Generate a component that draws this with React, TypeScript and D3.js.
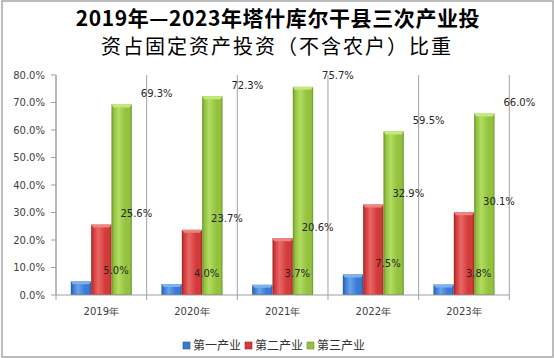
import React from "react";
import * as d3 from "d3";

const years = ["2019年", "2020年", "2021年", "2022年", "2023年"];
const seriesNames = ["第一产业", "第二产业", "第三产业"];
const primary = [5.0, 4.0, 3.7, 7.5, 3.8];
const secondary = [25.6, 23.7, 20.6, 32.9, 30.1];
const tertiary = [69.3, 72.3, 75.7, 59.5, 66.0];
const yTicks = [0, 10, 20, 30, 40, 50, 60, 70, 80];
const titleLines = ["2019年—2023年塔什库尔干县三次产业投", "资占固定资产投资（不含农户）比重"];

const seriesValues = [primary, secondary, tertiary];
const palette = [
  { dark: "#24589f", main: "#3a7ad2", light: "#6aa2ea", cap: "#7db2f0" },
  { dark: "#a02424", main: "#d33b3a", light: "#e86866", cap: "#ef8583" },
  { dark: "#6a9428", main: "#93c23f", light: "#b2dc62", cap: "#c4e87a" },
];

export default function App() {
  const W = 554, H = 358;
  const left = 56, right = 509.3, top = 75, bottom = 295;
  const x = d3.scaleBand<string>().domain(years).range([left, right]).padding(0);
  const xs = d3.scaleBand<string>().domain(seriesNames).range([0, x.bandwidth()]).paddingInner(0).paddingOuter(0.73);
  const y = d3.scaleLinear().domain([0, 80]).range([bottom, top]);
  const font = "'DejaVu Sans', Verdana, sans-serif";
  const cjk = "'Noto Sans CJK SC', sans-serif";
  const bw = xs.bandwidth();
  const boundaries = years.map((_, i) => left + i * x.step()).concat([right]);

  return (
    <svg width={W} height={H} style={{ position: "absolute", left: 0, top: 0 }} xmlns="http://www.w3.org/2000/svg">
      <defs>
        {palette.map((p, i) => (
          <linearGradient key={i} id={`g${i}`} x1="0" x2="1" y1="0" y2="0">
            <stop offset="0" stopColor={p.dark} />
            <stop offset="0.12" stopColor={p.main} />
            <stop offset="0.35" stopColor={p.light} />
            <stop offset="0.7" stopColor={p.main} />
            <stop offset="0.9" stopColor={p.main} />
            <stop offset="1" stopColor={p.dark} />
          </linearGradient>
        ))}
      </defs>
      <rect x={0} y={0} width={W} height={H} fill="#fff" />
      <rect x={2} y={1} width={551} height={356} fill="none" stroke="#a6a6a6" strokeWidth={1.5} />

      {titleLines.map((t, i) => (
        <text key={i} x={i === 0 ? 278 : 277} y={i === 0 ? 26 : 54} textAnchor="middle" fontFamily={cjk}
          fontSize={i === 0 ? 21 : 20} fontWeight={i === 0 ? 700 : 400} letterSpacing={i === 0 ? 0.6 : 2} fill="#000">{t}</text>
      ))}

      {boundaries.map((bx, i) => (
        <line key={i} x1={bx} x2={bx} y1={top} y2={bottom + 5} stroke="#a0a0a0" strokeWidth={1} />
      ))}
      {yTicks.map((t) => (
        <g key={t}>
          <line x1={left - 5} x2={left} y1={y(t)} y2={y(t)} stroke="#a0a0a0" />
          <text x={45} y={y(t) + 3.5} textAnchor="end" fontFamily={font} fontSize={10} fill="#404040">
            {t.toFixed(1)}%
          </text>
        </g>
      ))}

      {years.map((yr, i) => (
        <g key={yr}>
          {seriesNames.map((s, k) => {
            const v = seriesValues[k][i];
            const bx = (x(yr) as number) + (xs(s) as number);
            const by = y(v);
            const h = bottom - by;
            const cap = 3;
            return (
              <g key={s}>
                <rect x={bx} y={by} width={bw} height={h} fill={`url(#g${k})`} />
                <polygon points={`${bx},${by} ${bx + bw},${by} ${bx + bw - 2},${by + cap} ${bx + 2},${by + cap}`} fill={palette[k].cap} />
                <line x1={bx} x2={bx + bw} y1={bottom - 0.5} y2={bottom - 0.5} stroke={palette[k].dark} strokeOpacity={0.6} />
              </g>
            );
          })}
        </g>
      ))}
      <line x1={left} x2={right} y1={bottom} y2={bottom} stroke="#a0a0a0" />
      <line x1={left} x2={left} y1={top} y2={bottom} stroke="#a0a0a0" />

      {years.map((yr, i) => (
        <g key={yr}>
          {seriesNames.map((s, k) => {
            const v = seriesValues[k][i];
            const cx = (x(yr) as number) + (xs(s) as number) + bw / 2 + 35;
            return (
              <text key={s} x={cx} y={y(v) - 7.5} textAnchor="middle" fontFamily={font} fontSize={10} fill="#262626">
                {v.toFixed(1)}%
              </text>
            );
          })}
        </g>
      ))}

      {years.map((yr) => (
        <text key={yr} x={(x(yr) as number) + x.bandwidth() / 2} y={314.5} textAnchor="middle" fontFamily={font} fontSize={10} fill="#404040">
          {yr}
        </text>
      ))}

      {seriesNames.map((s, k) => {
        const lx = 183 + k * 62;
        return (
          <g key={s}>
            <rect x={lx} y={342} width={7} height={7} fill={palette[k].main} stroke={palette[k].dark} strokeWidth={0.6} />
            <text x={lx + 10} y={349.5} fontFamily={cjk} fontSize={12} fill="#333">{s}</text>
          </g>
        );
      })}
    </svg>
  );
}
